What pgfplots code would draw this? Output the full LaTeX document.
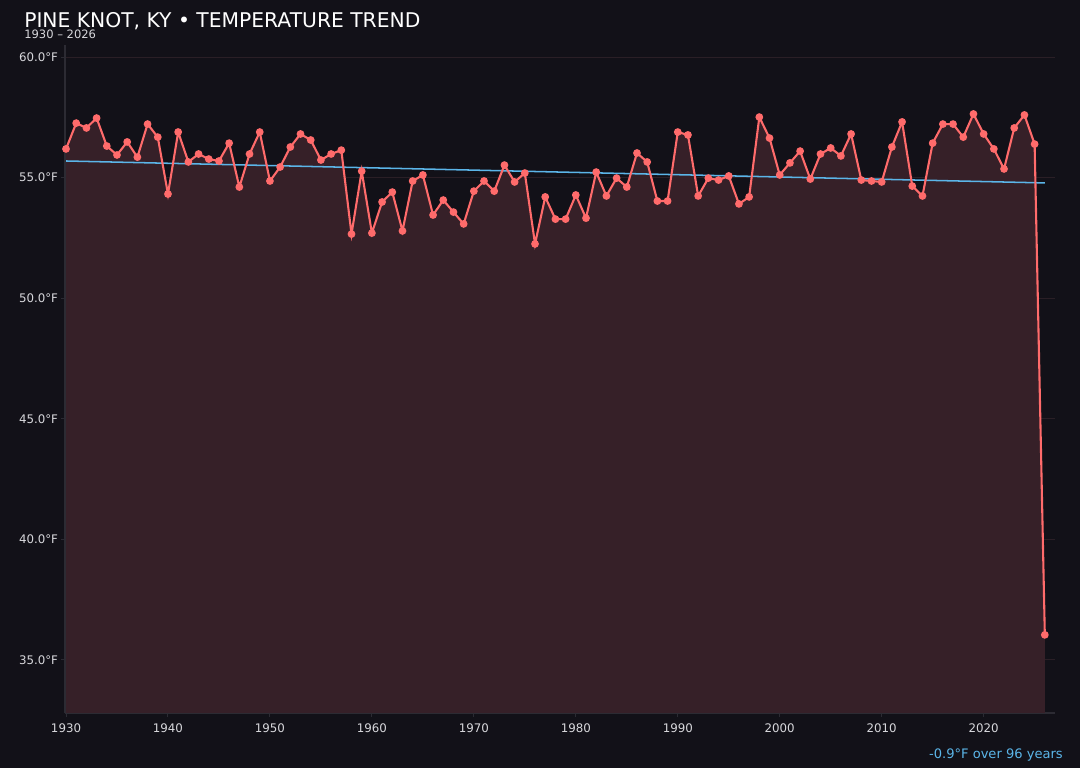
\documentclass[border=0pt]{standalone}
\usepackage{fontspec}
\setmainfont{DejaVu Sans}
\usepackage{pgfplots}
\usepackage{pgfplotstable}
\pgfplotsset{compat=1.18}

\definecolor{bg}{HTML}{121118}
\definecolor{areafill}{HTML}{362028}
\definecolor{redline}{HTML}{FF6B6B}
\definecolor{trend}{HTML}{5BB5E8}
\definecolor{gridc}{HTML}{2A1F26}
\definecolor{spine}{HTML}{2C2B33}
\definecolor{ticktext}{HTML}{D8D8DC}

\pgfplotstableread{
year temp
1930 56.19
1931 57.26
1932 57.06
1933 57.47
1934 56.31
1935 55.94
1936 56.48
1937 55.85
1938 57.22
1939 56.68
1940 54.32
1941 56.89
1942 55.65
1943 55.98
1944 55.77
1945 55.69
1946 56.43
1947 54.61
1948 55.98
1949 56.89
1950 54.86
1951 55.44
1952 56.27
1953 56.81
1954 56.56
1955 55.73
1956 55.98
1957 56.14
1958 52.66
1959 55.27
1960 52.70
1961 53.99
1962 54.40
1963 52.79
1964 54.86
1965 55.11
1966 53.45
1967 54.07
1968 53.57
1969 53.08
1970 54.44
1971 54.86
1972 54.44
1973 55.52
1974 54.82
1975 55.19
1976 52.25
1977 54.20
1978 53.28
1979 53.28
1980 54.28
1981 53.32
1982 55.23
1983 54.24
1984 54.98
1985 54.61
1986 56.02
1987 55.65
1988 54.03
1989 54.03
1990 56.89
1991 56.77
1992 54.24
1993 54.98
1994 54.90
1995 55.07
1996 53.91
1997 54.20
1998 57.51
1999 56.64
2000 55.11
2001 55.61
2002 56.10
2003 54.94
2004 55.98
2005 56.23
2006 55.90
2007 56.81
2008 54.90
2009 54.86
2010 54.82
2011 56.27
2012 57.31
2013 54.65
2014 54.24
2015 56.43
2016 57.22
2017 57.22
2018 56.68
2019 57.64
2020 56.81
2021 56.19
2022 55.36
2023 57.06
2024 57.60
2025 56.39
2026 36.04
}\temps

\begin{document}
\begin{tikzpicture}
% canvas 1080 x 768 px at 0.72pt per px
\fill[bg] (0,0) rectangle (777.6pt,552.96pt);

\begin{axis}[
    at={(46.8pt,39.6pt)}, anchor=south west,
    scale only axis,
    width=712.8pt, height=480.96pt,
    xmin=1929.9, xmax=2027,
    ymin=32.8, ymax=60.5,
    xtick={1930,1940,...,2020},
    ytick={35,40,...,60},
    axis line style={spine, line width=0.8pt},
    axis x line*=bottom, axis y line*=left,
    ymajorgrids=true,
    grid style={gridc, line width=0.7pt},
    tick style={spine, line width=0.7pt},
    tick align=outside,
    major tick length=3pt,
    ticklabel style={ticktext, font=\fontsize{8.5}{10}\selectfont},
    /pgf/number format/assume math mode=true,
    x tick label style={/pgf/number format/1000 sep={}, yshift=-1pt},
    y tick label style={xshift=1.5pt},
    yticklabel={\pgfmathprintnumber[fixed,fixed zerofill,precision=1]{\tick}°F},
]
\addplot[fill=areafill, draw=none] table[x=year,y=temp] {\temps} \closedcycle;
\addplot[trend, line width=1.1pt] coordinates {(1930,55.69) (2026,54.78)};
\addplot[redline, line width=1.5pt, mark=*, mark size=2pt,
         mark options={fill=redline, draw=redline, solid}] table[x=year,y=temp] {\temps};
\end{axis}

\node[anchor=base west, text=white, font=\fontsize{14.6}{16}\selectfont, inner sep=0pt]
    at (17.28pt,532.8pt) {PINE KNOT, KY • TEMPERATURE TREND};
\node[anchor=base west, text=ticktext, font=\fontsize{8.3}{9}\selectfont, inner sep=0pt]
    at (17.28pt,524.88pt) {1930 – 2026};
\node[anchor=base east, text=trend, font=\fontsize{9.4}{12}\selectfont, inner sep=0pt]
    at (765.36pt,6.48pt) {-0.9°F over 96 years};
\end{tikzpicture}
\end{document}
